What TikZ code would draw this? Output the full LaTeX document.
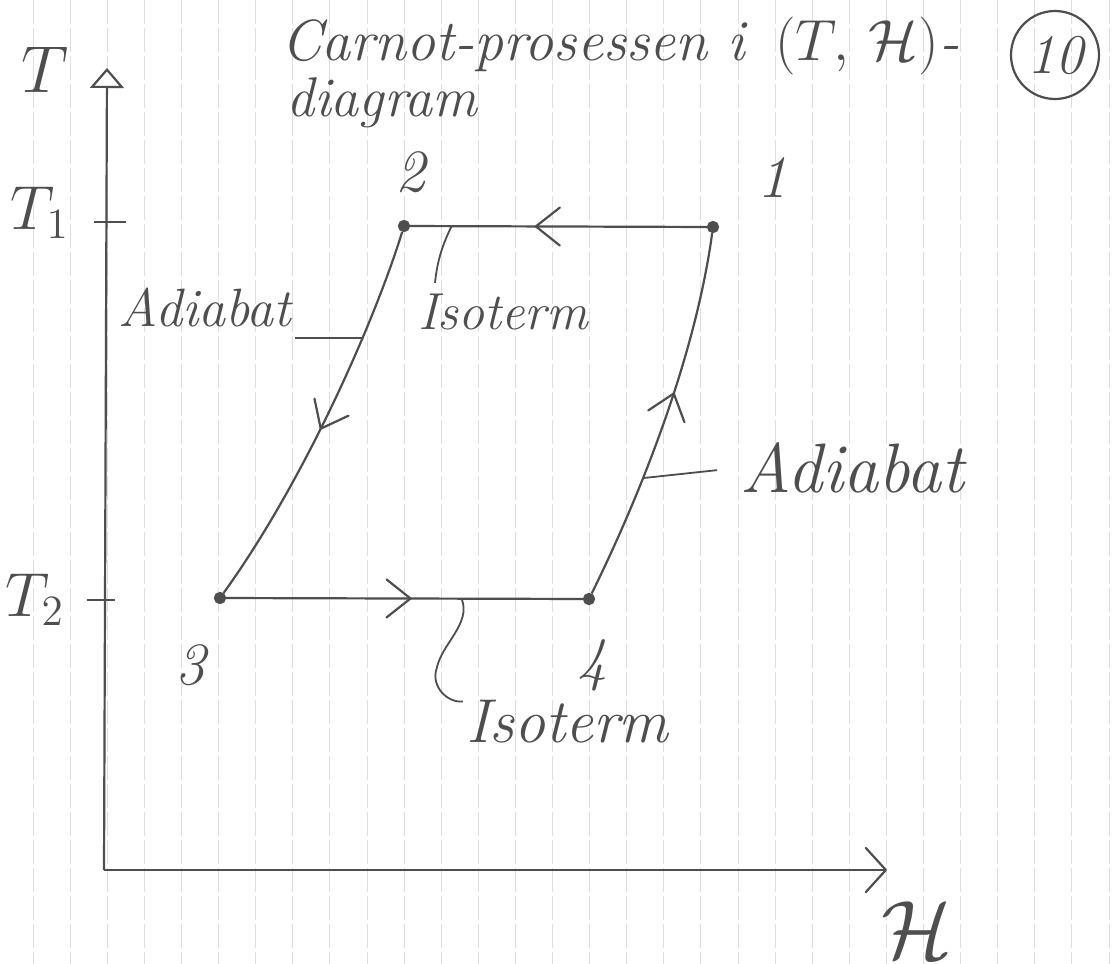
\documentclass[tikz,border=0pt]{standalone}
\usepackage{graphicx}
\usepackage{amsmath, amsfonts}
\usetikzlibrary{arrows.meta, decorations.markings, calc}

\definecolor{pencil}{RGB}{78,78,78}
\definecolor{ruling}{RGB}{222,222,222}

% math at a size the fixed math fonts have, blown up afterwards
\newcommand{\handmath}[2]{\scalebox{#1}{\fontsize{20}{24}\selectfont$#2$}}

\begin{document}
\begin{tikzpicture}[x=0.5pt, y=-0.5pt, line width=1.1pt, draw=pencil, text=pencil]
    \def\gridStep{37.1}
    \def\gridStart{33}

    \tikzstyle{dot} = [circle, fill=pencil, draw=pencil, inner sep=0pt, minimum size=5pt]
    \tikzstyle{lbl} = [inner sep=1pt, font=\itshape\fontsize{26}{30}\selectfont]
    \tikzstyle{num} = [inner sep=1pt, font=\itshape\fontsize{30}{34}\selectfont]
    \tikzstyle{axlbl} = [inner sep=1pt]
    \tikzstyle{leader} = [line width=0.9pt]
    \tikzstyle{midarrow} = [postaction={decorate}, decoration={markings,
        mark=at position #1 with {\arrow{Straight Barb[length=12pt, width=19pt, line width=1.1pt, round]}}}]

    % paper
    \fill[white] (0,0) rectangle (1115,964);
    \useasboundingbox (0,0) rectangle (1115,964);
    \foreach \k in {0,...,29} {
        \draw[ruling, line width=0.4pt, dash pattern=on 12pt off 2pt]
            ({\gridStart+\k*\gridStep}, 0) -- ({\gridStart+\k*\gridStep}, 964);
    }

    % title
    \node[anchor=base west, inner sep=0pt, font=\itshape\fontsize{29}{32}\selectfont] (title) at (280,60)
        {Carnot-prosessen i \,\handmath{1.4}{(T,\,\mathcal{H})}-};
    \node[anchor=base west, inner sep=0pt, font=\itshape\fontsize{28}{32}\selectfont] (titleB) at (285,116) {diagram};
    \node[draw, circle, minimum size=44pt, inner sep=0pt, font=\itshape\fontsize{28}{30}\selectfont] (page) at (1055,55) {10};

    % axes
    \coordinate (origin) at (104,870);
    \coordinate (yEnd) at (107,68);
    \coordinate (xEnd) at (887,870);
    \draw[-{Triangle[open, length=10pt, width=17pt, fill=white]}] (origin) -- (yEnd);
    \draw[-{Straight Barb[length=10pt, width=22pt, round]}] (origin) -- (xEnd);
    \node[axlbl] (labT) at (45,70) {\handmath{1.6}{T}};
    \node[axlbl] (labH) at (917,930) {\handmath{2}{\mathcal{H}}};

    % temperature marks
    \coordinate (tOne) at (106,222);
    \coordinate (tTwo) at (103,600);
    \draw ([xshift=-6pt]tOne) -- ([xshift=10pt]tOne);
    \draw ([xshift=-8pt]tTwo) -- ([xshift=6pt]tTwo);
    \node[axlbl] (labTOne) at (40,213) {\handmath{1.5}{T_1}};
    \node[axlbl] (labTTwo) at (35,600) {\handmath{1.5}{T_2}};

    % corners of the cycle
    \node[dot] (p1) at (713,227) {};
    \node[dot] (p2) at (404,226) {};
    \node[dot] (p3) at (220,598) {};
    \node[dot] (p4) at (589,599) {};
    \node[num] (n1) at (772,178) {1};
    \node[num] (n2) at (410,172) {2};
    \node[num] (n3) at (190,665) {3};
    \node[num] (n4) at (592,665) {4};

    % isotherms
    \draw[midarrow=0.58] (p1) -- coordinate[pos=0.86] (footT) (p2);
    \draw[midarrow=0.52] (p3) -- coordinate[pos=0.66] (footB) (p4);
    % adiabats
    \draw[midarrow=0.53] (p2) .. controls (375,320) and (305,480) .. coordinate[pos=0.33] (footL) (p3);
    \draw[midarrow=0.57] (p4) .. controls (649,477) and (697,345) .. coordinate[pos=0.32] (footR) (p1);

    % labels and their leaders
    \node[lbl, font=\itshape\fontsize{27}{30}\selectfont] (adiabatL) at (205,307) {Adiabat};
    \draw[leader] (footL) -- (footL -| adiabatL.east);

    \node[lbl, anchor=west, font=\itshape\fontsize{35}{38}\selectfont] (adiabatR) at (737,468) {Adiabat};
    \draw[leader, shorten >=10pt] (footR) -- (adiabatR.west);

    \node[lbl, anchor=west] (isoT) at (415,312) {Isoterm};
    \draw[leader] (footT) .. controls +(-10,20) and +(2,-20) .. ([xshift=10pt, yshift=4pt]isoT.north west);

    \node[lbl, anchor=west, font=\itshape\fontsize{31}{34}\selectfont] (isoB) at (463,722) {Isoterm};
    \draw[leader] (footB) .. controls +(10,25) and +(5,-25) .. +(-25,70)
        .. controls +(-6,18) and +(-15,2) .. ([yshift=-2pt]isoB.north west);
\end{tikzpicture}
\end{document}
